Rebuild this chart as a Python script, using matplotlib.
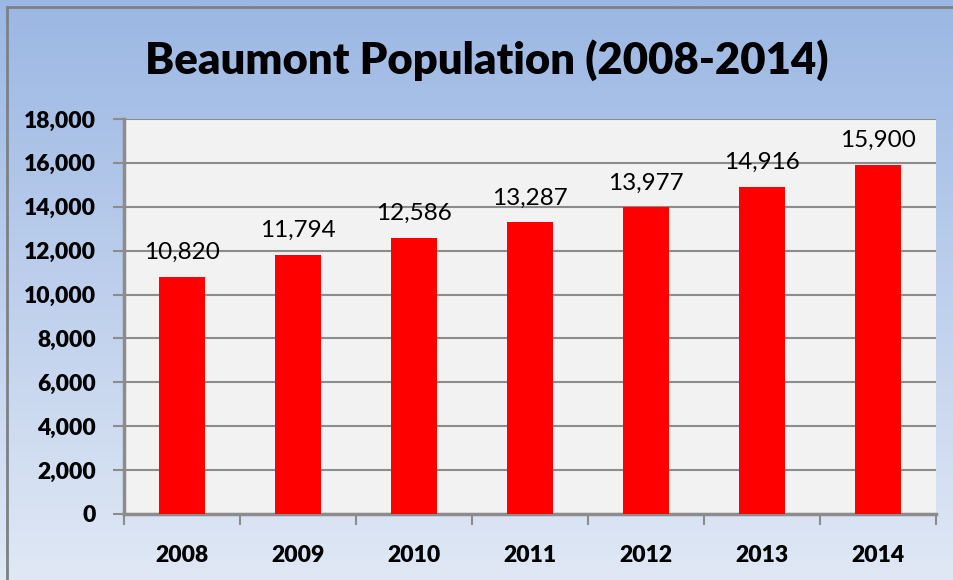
import numpy as np
import matplotlib.pyplot as plt
from matplotlib.ticker import FuncFormatter, FixedLocator
from matplotlib.patches import Rectangle

years = ['2008', '2009', '2010', '2011', '2012', '2013', '2014']
population = [10820, 11794, 12586, 13287, 13977, 14916, 15900]
y_ticks = list(range(0, 18001, 2000))

plt.rcParams['font.family'] = ['Lato', 'DejaVu Sans']

fig = plt.figure(figsize=(9.54, 5.80), dpi=100)

# background gradient (blue at top to pale at bottom)
bg = fig.add_axes([0, 0, 1, 1], zorder=-10)
top = np.array([155, 183, 227]) / 255
bottom = np.array([224, 232, 245]) / 255
t = np.linspace(0, 1, 256)[:, None]
grad = top * (1 - t) + bottom * t
bg.imshow(grad[:, None, :].repeat(2, axis=1), aspect='auto', extent=[0, 1, 0, 1])
bg.set_xlim(0, 1)
bg.set_ylim(0, 1)
bg.axis('off')
# chart frame (top and left edges visible)
bg.add_patch(Rectangle((7.5 / 954, -0.1), 1.2, 1 - 6.5 / 580 + 0.1,
                       fill=False, edgecolor='#808080', linewidth=2))

ax = fig.add_axes([124 / 954, 66 / 580, 812 / 954, 395 / 580])
ax.set_facecolor('#f2f2f2')
x = np.arange(len(years))
ax.bar(x, population, width=0.4, color='#ff0000', zorder=3)

for xi, v in zip(x, population):
    ax.annotate(f'{v:,}', (xi, v), xytext=(0, 10), textcoords='offset points',
                ha='center', va='bottom', fontsize=17.5, color='black', zorder=4)

ax.set_xlim(-0.5, len(years) - 0.5)
ax.set_ylim(0, 18000)
ax.set_yticks(y_ticks)
ax.yaxis.set_major_formatter(FuncFormatter(lambda v, p: f'{int(v):,}'))
ax.yaxis.grid(True, color='#8c8c8c', linewidth=1.5, zorder=0)

ax.set_xticks(x)
ax.set_xticklabels(years)
ax.xaxis.set_minor_locator(FixedLocator(np.arange(-0.5, len(years), 1.0)))
ax.tick_params(axis='x', which='major', length=0, pad=22)
ax.tick_params(axis='x', which='minor', length=8, width=1.5, color='#8c8c8c', direction='out')
ax.tick_params(axis='y', length=8, width=1.5, color='#8c8c8c', pad=12)

for lab in ax.get_xticklabels() + ax.get_yticklabels():
    lab.set_fontweight('heavy')
    lab.set_fontsize(16.5)

for side in ['top', 'right']:
    ax.spines[side].set_visible(False)
for side in ['left', 'bottom']:
    ax.spines[side].set_color('#8c8c8c')
    ax.spines[side].set_linewidth(2.5)

fig.text(487 / 954, 1 - 60 / 580, 'Beaumont Population (2008-2014)', ha='center', va='center',
         fontsize=31.4, fontweight='heavy')

fig.savefig('out.png', dpi=100)
